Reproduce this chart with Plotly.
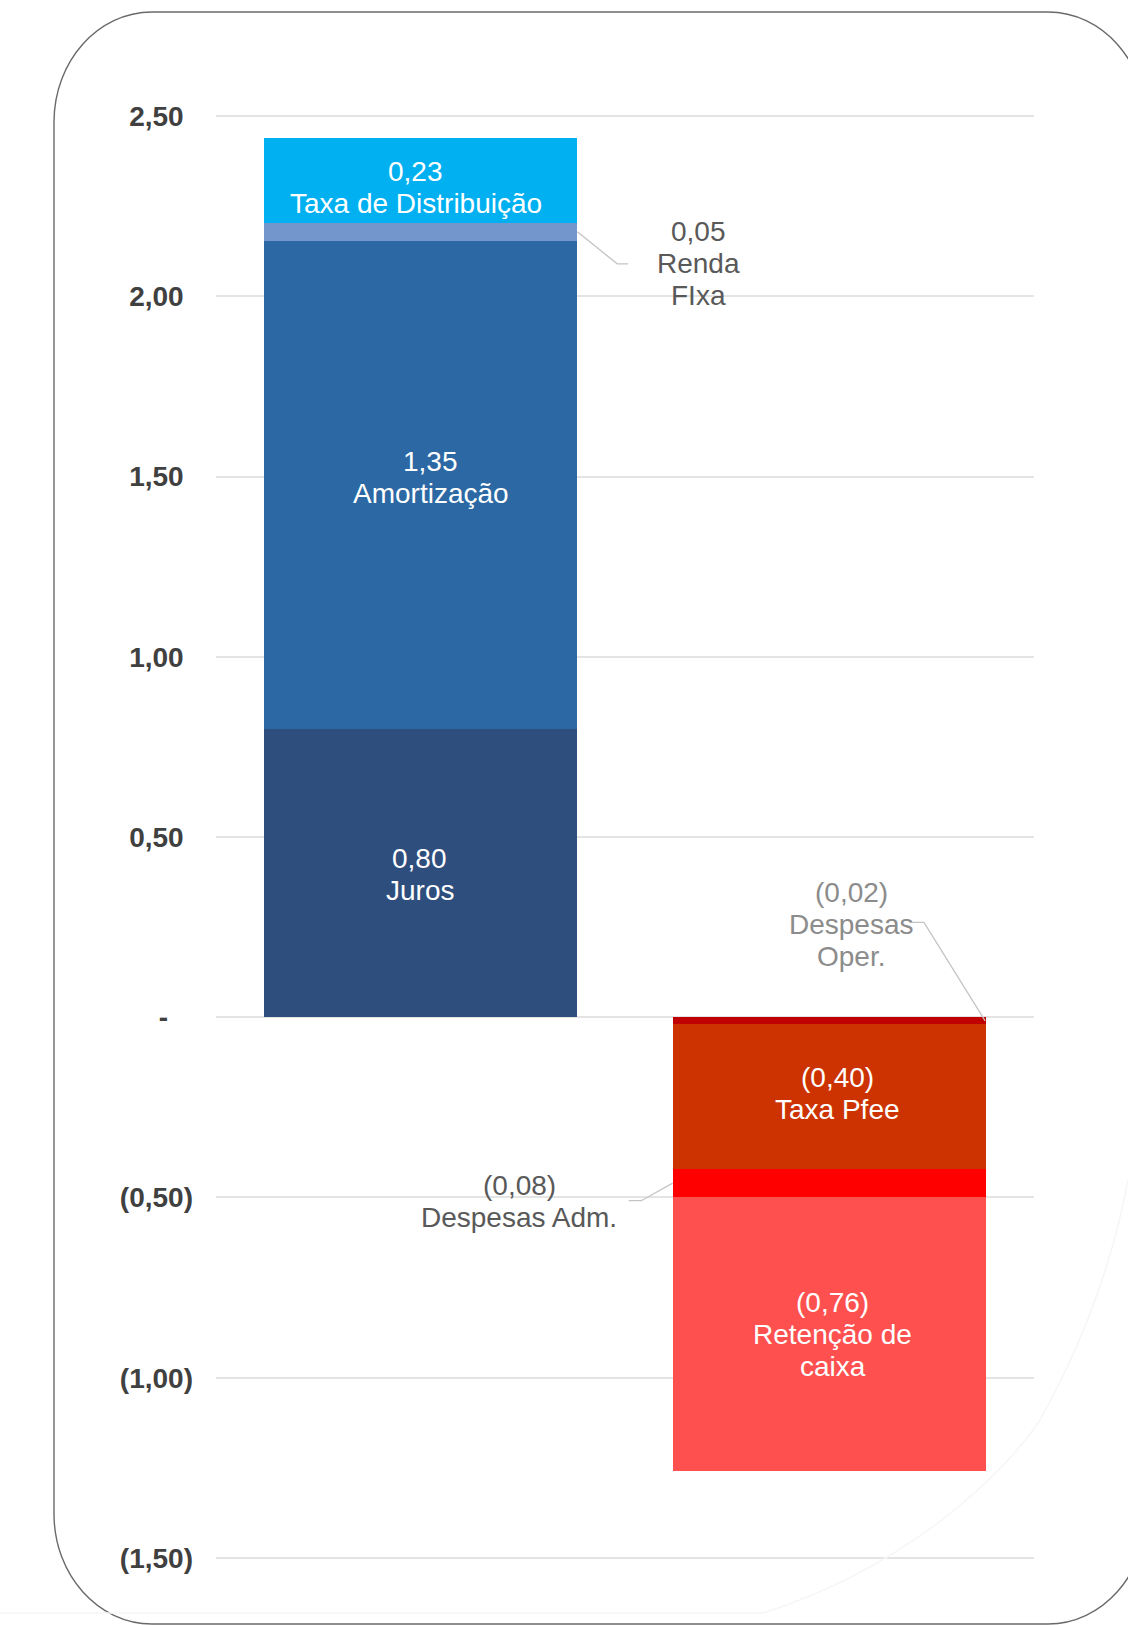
import plotly.graph_objects as go

# ---------------- data ----------------
categories = ["Entradas", "Saídas"]
segment_names = ["Juros", "Amortização", "Renda<br>FIxa", "Taxa de Distribuição",
                 "Despesas<br>Oper.", "Taxa Pfee", "Despesas Adm.", "Retenção de<br>caixa"]
segment_values = [0.80, 1.354, 0.05, 0.234, -0.02, -0.40, -0.08, -0.76]
segment_category = [0, 0, 0, 0, 1, 1, 1, 1]
segment_colors = ["#2E4E7E", "#2B68A4", "#7396CC", "#00B0F0",
                  "#C00000", "#CC3300", "#FF0000", "#FF5050"]
label_inside = [True, True, False, True, False, True, False, True]

tick_values = [2.5, 2.0, 1.5, 1.0, 0.5, 0.0, -0.5, -1.0, -1.5]
tick_labels = ["2,50", "2,00", "1,50", "1,00", "0,50", "-", "(0,50)", "(1,00)", "(1,50)"]

# ---------------- styling ----------------
FONT = "Arial, 'Liberation Sans', sans-serif"
BAR_W = 0.767
LINE_H = 32  # px between label lines
FS = 28
# small pixel nudges of inside labels (x, y) to follow the original placement
NUDGE = {0: (-1, -1), 1: (10, 7), 3: (-5, -7), 5: (8, 3), 7: (3, 0)}


def fmt(v):
    s = f"{abs(v):.2f}".replace(".", ",")
    return f"({s})" if v < 0 else s


fig = go.Figure()
for name, val, cat, col in zip(segment_names, segment_values, segment_category, segment_colors):
    fig.add_trace(go.Bar(
        x=[cat], y=[val], width=BAR_W,
        marker=dict(color=col, line=dict(width=0)),
        name=name.replace("<br>", " "), showlegend=False,
        hovertemplate=f"{categories[cat]}<br>{name.replace('<br>', ' ')}: {fmt(val)}<extra></extra>",
    ))

# cumulative segment middles (per category)
mids = []
acc = {0: [0.0, 0.0], 1: [0.0, 0.0]}
for val, cat in zip(segment_values, segment_category):
    if val >= 0:
        lo = acc[cat][0]; acc[cat][0] += val; hi = acc[cat][0]
    else:
        hi = acc[cat][1]; acc[cat][1] += val; lo = acc[cat][1]
    mids.append((lo + hi) / 2)

annots = []
shapes = []


def add_block(x, y, lines, color, dx=0, dy=0):
    n = len(lines)
    for k, ln in enumerate(lines):
        annots.append(dict(
            x=x, y=y, xref="x", yref="y", text=ln, showarrow=False,
            xanchor="center", yanchor="middle", align="center",
            xshift=dx, yshift=((n - 1) / 2 - k) * LINE_H + dy,
            font=dict(family=FONT, size=FS, color=color),
        ))


# inside labels
for i, (name, val, cat, ins) in enumerate(zip(segment_names, segment_values,
                                                segment_category, label_inside)):
    if ins:
        dx, dy = NUDGE.get(i, (0, 0))
        add_block(cat, mids[i], [fmt(val)] + name.split("<br>"), "white", dx, dy)

half = BAR_W / 2
line_style = dict(color="#C4C4C4", width=1.3)

# Renda Fixa (index 2) - label to the right of bar 0
i = 2
yl = mids[i] - 0.089
shapes.append(dict(type="path", xref="x", yref="y", line=line_style,
                   path=f"M {0 + half},{mids[i]} L 0.481,{yl} L 0.508,{yl}"))
add_block(0.679, yl, [fmt(segment_values[i])] + segment_names[i].split("<br>"), "#595959")

# Despesas Oper. (index 4) - label above bar 1
i = 4
yl = mids[i] + 0.273
shapes.append(dict(type="path", xref="x", yref="y", line=line_style,
                   path=f"M {1 + half - 0.003},{mids[i]} L 1.231,{yl} L 1.202,{yl}"))
add_block(1.053, yl - 0.011, [fmt(segment_values[i])] + segment_names[i].split("<br>"), "#8C8C8C",
          0, 2)

# Despesas Adm. (index 6) - label left of bar 1
i = 6
yl = mids[i] - 0.049
shapes.append(dict(type="path", xref="x", yref="y", line=line_style,
                   path=f"M {1 - half},{mids[i]} L 0.540,{yl} L 0.509,{yl}"))
add_block(0.242, yl - 0.008, [fmt(segment_values[i])] + segment_names[i].split("<br>"), "#595959",
          0, 2)

# ---------------- decorative frame (pixel -> paper) ----------------
W, H = 1128, 1625
ML, MR, MT, MB = 216, 94, 80, 31
PW, PH = W - ML - MR, H - MT - MB


def px(xp):
    return (xp - ML) / PW


def py(yp):
    return (H - MB - yp) / PH


def rounded_rect(l, t, r, b, rx, ry):
    k = 0.5523
    pts = [
        f"M {px(l + rx)},{py(t)}",
        f"L {px(r - rx)},{py(t)}",
        f"C {px(r - rx + k * rx)},{py(t)} {px(r)},{py(t + ry - k * ry)} {px(r)},{py(t + ry)}",
        f"L {px(r)},{py(b - ry)}",
        f"C {px(r)},{py(b - ry + k * ry)} {px(r - rx + k * rx)},{py(b)} {px(r - rx)},{py(b)}",
        f"L {px(l + rx)},{py(b)}",
        f"C {px(l + rx - k * rx)},{py(b)} {px(l)},{py(b - ry + k * ry)} {px(l)},{py(b - ry)}",
        f"L {px(l)},{py(t + ry)}",
        f"C {px(l)},{py(t + ry - k * ry)} {px(l + rx - k * rx)},{py(t)} {px(l + rx)},{py(t)}",
        "Z",
    ]
    return " ".join(pts)


shapes.append(dict(type="path", xref="paper", yref="paper",
                   path=rounded_rect(54, 12, 1146, 1624, 98, 110),
                   line=dict(color="#6A6A6A", width=1.4)))
# faint background swoosh
shapes.append(dict(type="path", xref="paper", yref="paper",
                   path=(f"M {px(0)},{py(1613)} L {px(763)},{py(1613)} "
                         f"C {px(900)},{py(1570)} {px(1000)},{py(1480)} {px(1040)},{py(1420)} "
                         f"C {px(1090)},{py(1330)} {px(1115)},{py(1250)} {px(1128)},{py(1180)}"),
                   line=dict(color="#F6F6F6", width=1.5)))

INV = '<span style="color:rgba(0,0,0,0)">{}</span>'
padded = []
for v, t in zip(tick_values, tick_labels):
    if v > 0:
        padded.append(t + INV.format(")"))
    elif v == 0:
        padded.append(t + INV.format("0)"))
    else:
        padded.append(t)

fig.update_layout(
    width=W, height=H,
    margin=dict(l=ML, r=MR, t=MT, b=MB, autoexpand=False),
    paper_bgcolor="white", plot_bgcolor="white",
    barmode="relative", bargap=0,
    showlegend=False,
    shapes=shapes, annotations=annots,
    xaxis=dict(range=[-0.5, 1.5], showticklabels=False, showgrid=False,
               zeroline=False, showline=False, ticks="", fixedrange=True),
    yaxis=dict(range=[-1.6, 2.6], tickvals=tick_values, ticktext=padded,
               tickfont=dict(family=FONT, size=FS, color="#404040", weight="bold"),
               showgrid=True, gridcolor="#E4E4E4", gridwidth=1.6,
               zeroline=True, zerolinecolor="#E4E4E4", zerolinewidth=1.6,
               showline=False, ticks="", ticklabelstandoff=22, automargin=False,
               fixedrange=True),
)

fig.write_html("out.html", config={"displayModeBar": False})
